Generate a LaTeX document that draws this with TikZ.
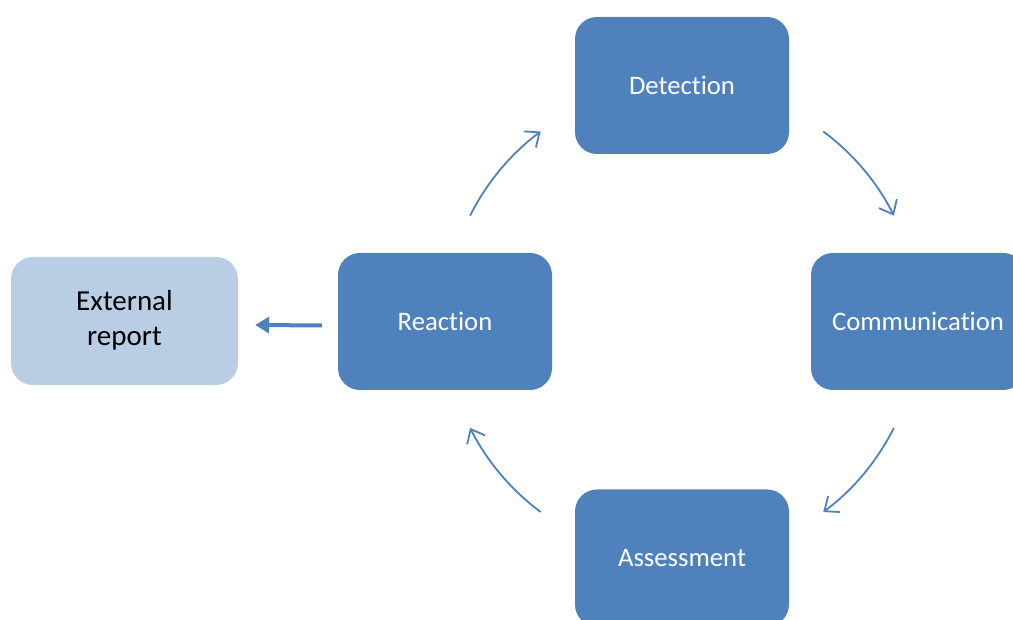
\documentclass[tikz,border=0pt]{standalone}
\usepackage{fontspec}
\setmainfont{Carlito}[Ligatures={NoCommon}]
\usetikzlibrary{arrows.meta,calc}
\definecolor{boxblue}{HTML}{4F81BD}
\definecolor{lightblue}{HTML}{B9CDE5}
\begin{document}
\begin{tikzpicture}[x=1pt,y=1pt,
  stage/.style={rectangle, rounded corners=22pt, fill=boxblue, draw=none,
    minimum width=214pt, minimum height=137pt, text=white, inner sep=0pt,
    font=\fontsize{26.7}{35}\selectfont},
  extbox/.style={rectangle, rounded corners=22pt, fill=lightblue, draw=none,
    minimum width=227pt, minimum height=128pt, text=black, inner sep=0pt,
    font=\fontsize{29}{35}\selectfont},
  cyc/.style={draw=boxblue, line width=1.8pt,
    -{Straight Barb[length=12pt,width=20pt,line width=1.8pt]}},
  outarrow/.style={draw=boxblue, line width=4pt,
    -{Triangle[length=14pt,width=16pt]}}]
\useasboundingbox (0,0) rectangle (1013,620);
\clip (0,0) rectangle (1013,620);
\fill[white] (0,0) rectangle (1013,620);
\node[stage] (detection) at (682,534.5) {Detection};
\node[stage] (communication) at (918,298.5) {Communication};
\node[stage] (assessment) at (682,62) {Assessment};
\node[stage] (reaction) at (445,298.5) {Reaction};
\node[extbox] (external) at (124.5,299) {\raisebox{-4pt}{\begin{tabular}{@{}c@{}}External\\report\end{tabular}}};
\coordinate (c) at ($(detection)!0.5!(assessment)$);
\draw[cyc] ($(c)+(153.4:237)$) arc[start angle=153.4, end angle=126.6, radius=237];
\draw[cyc] ($(c)+(53.4:237)$) arc[start angle=53.4, end angle=26.6, radius=237];
\draw[cyc] ($(c)+(-26.6:237)$) arc[start angle=-26.6, end angle=-53.4, radius=237];
\draw[cyc] ($(c)+(-126.6:237)$) arc[start angle=-126.6, end angle=-153.4, radius=237];
\draw[outarrow] ($(reaction.west)+(-16,-4)$) -- ($(external.east)+(17,-4)$);
\end{tikzpicture}
\end{document}
